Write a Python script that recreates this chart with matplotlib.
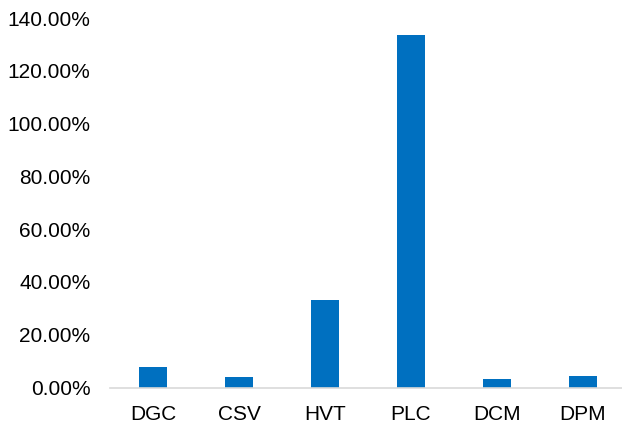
import matplotlib
import matplotlib.pyplot as plt
from matplotlib.ticker import FuncFormatter

matplotlib.use('agg')

categories = ['DGC', 'CSV', 'HVT', 'PLC', 'DCM', 'DPM']
values = [7.9, 4.0, 33.2, 133.6, 3.2, 4.5]
yticks = [0, 20, 40, 60, 80, 100, 120, 140]

plt.rcParams['font.family'] = ['Liberation Sans', 'DejaVu Sans']

fig = plt.figure(figsize=(6.22, 4.26), dpi=100)
ax = fig.add_axes([110 / 622, 38.5 / 426, 516 / 622, 369.5 / 426])

ax.bar(range(len(categories)), values, width=0.32, color='#0070C0')

ax.set_xlim(-0.5, len(categories) - 0.5)
ax.set_ylim(0, 140)
ax.set_yticks(yticks)
ax.yaxis.set_major_formatter(FuncFormatter(lambda v, p: '{:.2f}%'.format(v)))
ax.set_xticks(range(len(categories)))
ax.set_xticklabels(categories)

for s in ['top', 'right', 'left']:
    ax.spines[s].set_visible(False)
ax.spines['bottom'].set_color('#D9D9D9')
ax.spines['bottom'].set_linewidth(1.2)

ax.tick_params(axis='y', length=0, pad=14, labelsize=15, colors='#000000')
ax.tick_params(axis='x', length=0, pad=12.5, labelsize=15, colors='#000000')

fig.savefig('out.png', dpi=100)
